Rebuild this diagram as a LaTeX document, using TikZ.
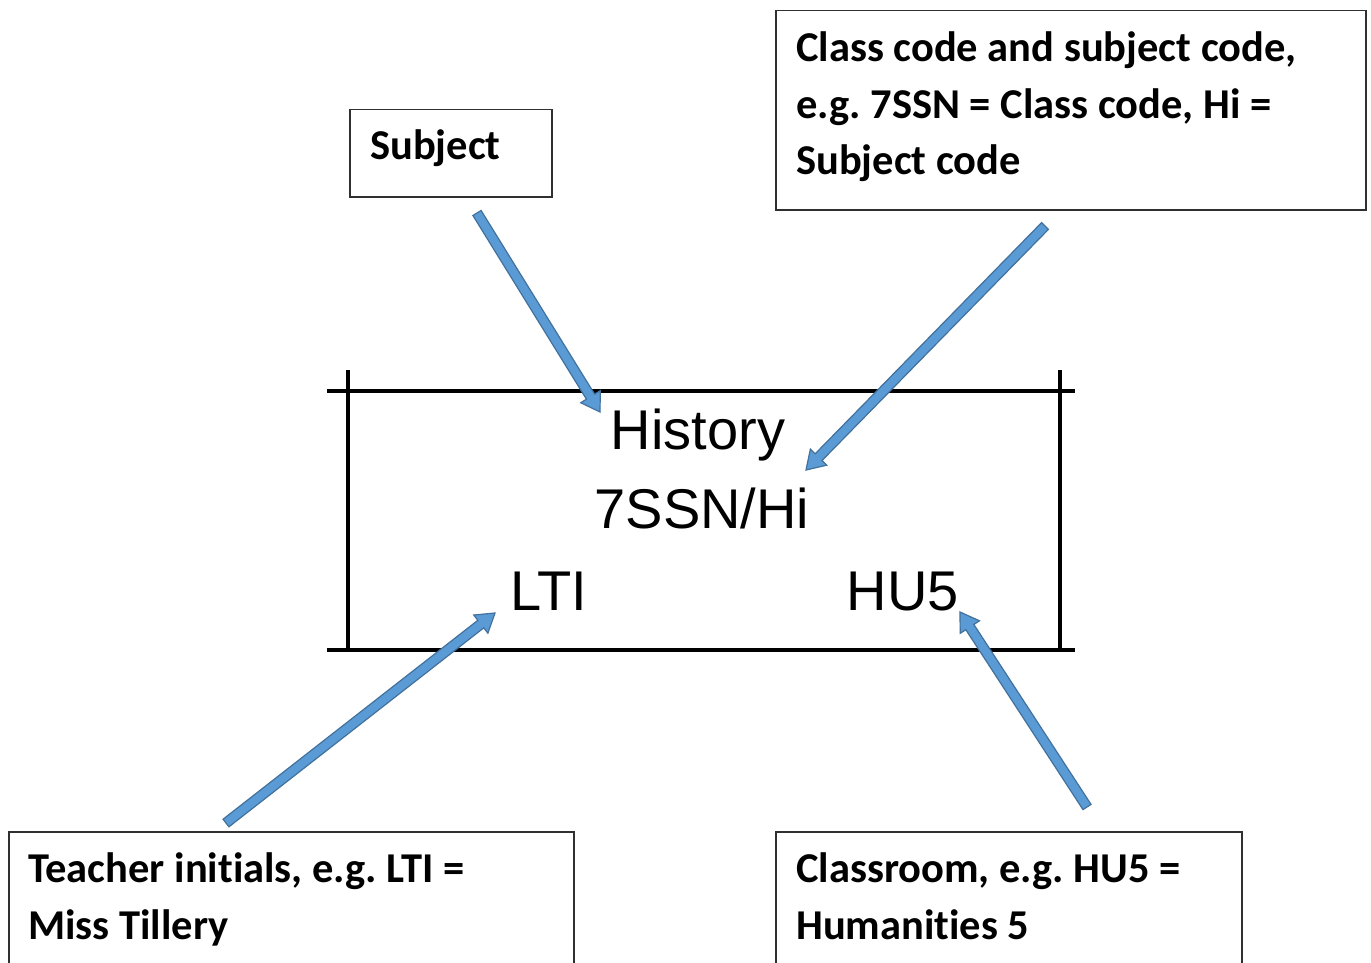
\documentclass[tikz,border=0pt]{standalone}
\usepackage{fontspec}
\setmainfont{Carlito}[Ligatures=NoCommon]
\newfontfamily\arialf{Liberation Sans}
\usetikzlibrary{calc}
\frenchspacing
\definecolor{arrfill}{HTML}{5B9BD5}
\definecolor{arrline}{HTML}{41719C}
\definecolor{boxline}{HTML}{303030}
\tikzset{
  boxshape/.style={draw=boxline, line width=1.5pt, minimum width=#1, inner sep=0pt, anchor=north west},
  lbl/.style={font=\bfseries\fontsize{42.5}{56.5}\selectfont, align=left, anchor=base west, inner sep=0pt},
  inner/.style={font=\arialf\fontsize{56}{60}\selectfont, anchor=base, inner sep=0pt},
  frame/.style={line width=3.2pt, black},
  barr/.style={fill=arrfill, draw=arrline, line width=1.2pt, line join=miter},
}
% block arrow from #1 (tail) to #2 (tip); #3 = name of head-base coordinate
\newcommand\blockarrow[3]{%
  \coordinate (#3) at ($(#2)!18pt!(#1)$);
  \draw[barr] ($(#1)!4.8pt!90:(#2)$) -- ($(#3)!4.8pt!90:(#2)$) -- ($(#3)!11.5pt!90:(#2)$)
    -- (#2) -- ($(#3)!11.5pt!-90:(#2)$) -- ($(#3)!4.8pt!-90:(#2)$) -- ($(#1)!4.8pt!-90:(#2)$) -- cycle;
}
\begin{document}
\begin{tikzpicture}[x=1pt,y=-1pt]
\useasboundingbox (0,0) rectangle (1371,963);
\fill[white] (0,0) rectangle (1371,963);

% label boxes (base anchor of a multi-line text = its last line)
\node[boxshape=202pt, minimum height=87pt] (subjbox) at (349,109) {};
\node[lbl] (subjtxt) at (370,160) {Subject};

\node[boxshape=590pt, minimum height=199pt] (ccbox) at (775,10) {};
\node[lbl] (cctxt) at (796,175) {Class code and subject code,\\e.g. 7SSN = Class code, Hi =\\Subject code};

\node[boxshape=565pt, minimum height=160pt] (tbox) at (8,831) {};
\node[lbl] (ttxt) at (28,939) {Teacher initials, e.g. LTI =\\Miss Tillery};

\node[boxshape=466pt, minimum height=160pt] (rbox) at (775,831) {};
\node[lbl] (rtxt) at (796,939) {Classroom, e.g. HU5 =\\Humanities 5};

% central frame
\draw[frame] (327,391) -- (1075,391);
\draw[frame] (327,650) -- (1075,650);
\draw[frame] (348,370) -- (348,650);
\draw[frame] (1060,370) -- (1060,650);

\node[inner] (hist) at (698,449) {History};
\node[inner] (code) at (702,528) {7SSN/Hi};
\node[inner] (lti) at (549,610) {LTI};
\node[inner] (hu) at (903,610) {HU5};

% arrow ends
\coordinate (a1s) at (477,213);  \coordinate (a1e) at (600,412);
\coordinate (a2s) at (1045,226); \coordinate (a2e) at (806,470);
\coordinate (a3s) at (226,823);  \coordinate (a3e) at (495,613);
\coordinate (a4s) at (1087,807); \coordinate (a4e) at (960,612);

\blockarrow{a1s}{a1e}{a1h}
\blockarrow{a2s}{a2e}{a2h}
\blockarrow{a3s}{a3e}{a3h}
\blockarrow{a4s}{a4e}{a4h}
\end{tikzpicture}
\end{document}
